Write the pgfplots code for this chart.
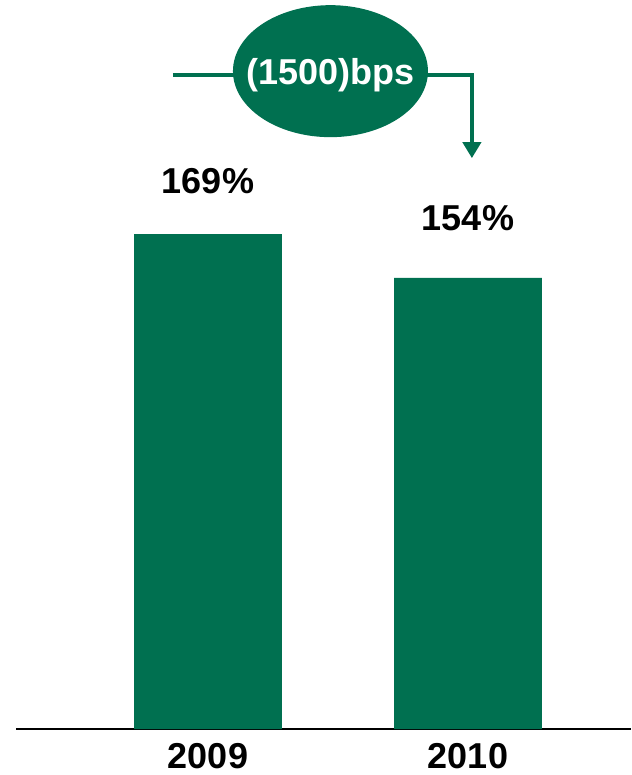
\documentclass[border=0pt]{standalone}
\usepackage{fontspec}
\setmainfont{Liberation Sans}
\usepackage{pgfplots}
\pgfplotsset{compat=1.18}
\usetikzlibrary{arrows.meta}
\definecolor{bargreen}{RGB}{0,112,80}
\newcommand{\bigbold}{\fontsize{36}{40}\selectfont\bfseries}

\begin{document}
\begin{tikzpicture}
\begin{axis}[
    x=260pt, y=2.929pt,
    xmin=-0.738, xmax=1.627, ymin=0, ymax=248.9,
    axis x line=bottom, axis y line=none,
    x axis line style={-, line width=2pt, black},
    xtick=data, xticklabels={2009,2010},
    major tick length=0pt,
    xticklabel style={anchor=center, yshift=-27pt, font=\bigbold},
    ytick=\empty,
    ybar, bar width=0.569,
    clip=false,
    /pgf/number format/assume math mode=true,
    nodes near coords={\pgfmathprintnumber{\pgfplotspointmeta}\%},
    every node near coord/.append style={font=\bigbold, black},
]
\addplot[fill=bargreen, draw=none,
    visualization depends on={\thisrow{off}\as\off},
    nodes near coords style={anchor=center, yshift=\off pt}]
    table {
x y off
0 169 53
1 154 60
};

% rating change annotation
\draw[bargreen, line width=4pt, line join=miter,
      -{Triangle[width=18pt,length=16pt]}]
    (axis cs:-0.135,223.3) -- (axis cs:1.015,223.3) -- (axis cs:1.015,194.9);
\fill[bargreen] (axis cs:0.471,224.6) ellipse [x radius=97.5pt, y radius=66pt];
\node[white, font=\bigbold] at (axis cs:0.471,223.3) {(1500)bps};

\coordinate (bl) at (axis cs:-0.8,-15.7);
\coordinate (tr) at (axis cs:1.627,248.9);
\end{axis}
\pgfresetboundingbox
\useasboundingbox (bl) rectangle (tr);
\end{tikzpicture}
\end{document}
